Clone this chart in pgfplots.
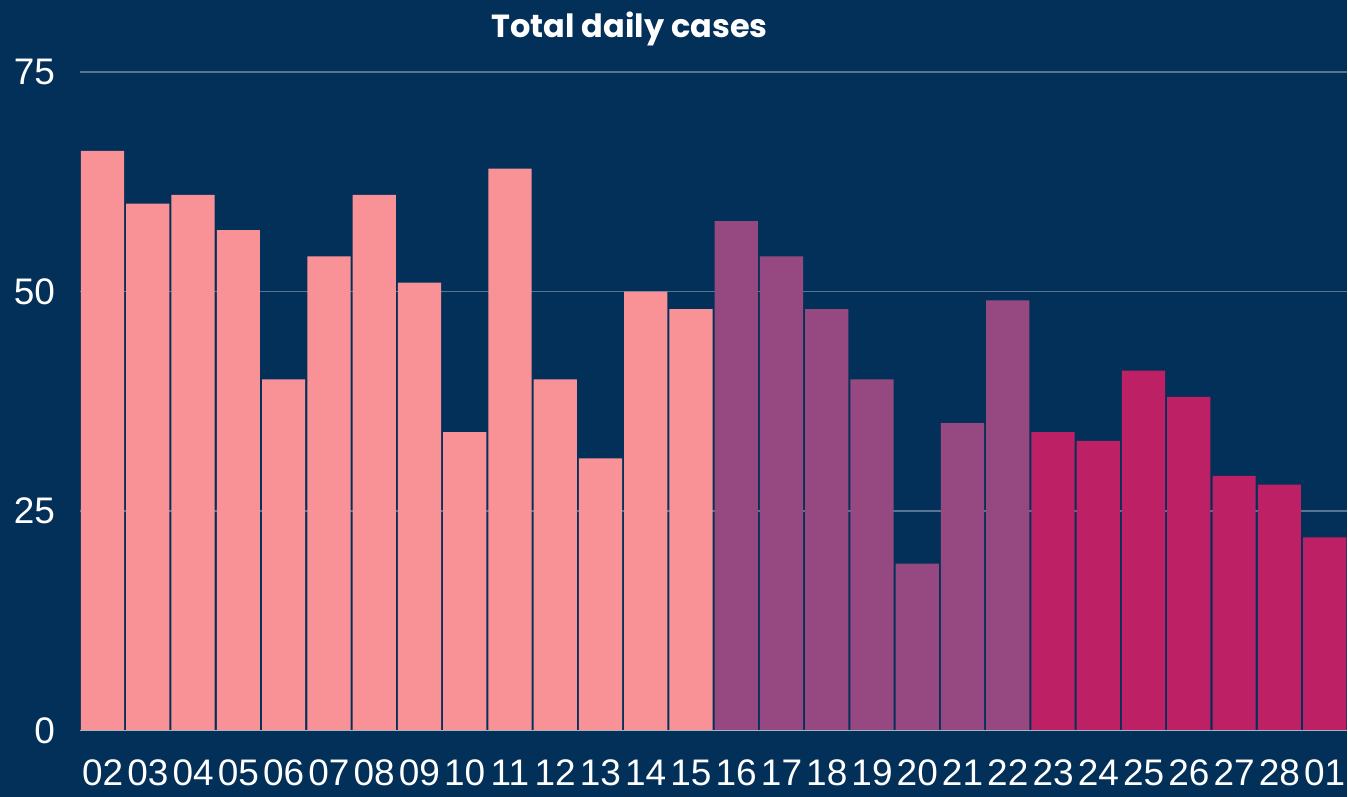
\documentclass[border=0pt]{standalone}
\usepackage{fontspec}
\setmainfont{Liberation Sans}
\newfontfamily\poppins{Poppins}
\usepackage{pgfplots}
\pgfplotsset{compat=1.18}
\definecolor{bg}{HTML}{033059}
\definecolor{pinkbar}{HTML}{F99297}
\definecolor{purplebar}{HTML}{964980}
\definecolor{magbar}{HTML}{BE2066}
\definecolor{gridc}{HTML}{567592}
\definecolor{basec}{HTML}{A8B4C2}
\begin{document}
\begin{tikzpicture}
\fill[bg] (0,0) rectangle (674pt,398.5pt);
\node[text=white, font=\poppins\bfseries\fontsize{16}{19}\selectfont] at (315pt,384pt) {Total daily cases};
\begin{axis}[
  at={(40pt,33pt)}, anchor=south west,
  scale only axis, width=634pt, height=329.5pt,
  xmin=-0.5, xmax=27.5, ymin=0, ymax=75,
  axis line style={draw=none},
  ytick={0,25,50,75},
  xtick={0,...,27},
  xticklabels={02,03,04,05,06,07,08,09,10,11,12,13,14,15,16,17,18,19,20,21,22,23,24,25,26,27,28,01},
  major tick length=0pt,
  ymajorgrids, grid style={gridc, line width=0.75pt},
  tick label style={text=white, font=\fontsize{18.5}{20}\selectfont},
  /pgf/number format/assume math mode=true,
  yticklabel style={xshift=-9pt},
  xticklabel style={yshift=-14.5pt, inner sep=0pt},
  ybar, bar width=0.955, bar shift=0pt,
  clip=false,
]
\addplot[fill=pinkbar, draw=none] coordinates {(0,66) (1,60) (2,61) (3,57) (4,40) (5,54) (6,61) (7,51) (8,34) (9,64) (10,40) (11,31) (12,50) (13,48)};
\addplot[fill=purplebar, draw=none] coordinates {(14,58) (15,54) (16,48) (17,40) (18,19) (19,35) (20,49)};
\addplot[fill=magbar, draw=none] coordinates {(21,34) (22,33) (23,41) (24,38) (25,29) (26,28) (27,22)};
\draw[basec, line width=0.75pt] (axis cs:-0.5,0) -- (axis cs:27.5,0);
\end{axis}
\end{tikzpicture}
\end{document}
